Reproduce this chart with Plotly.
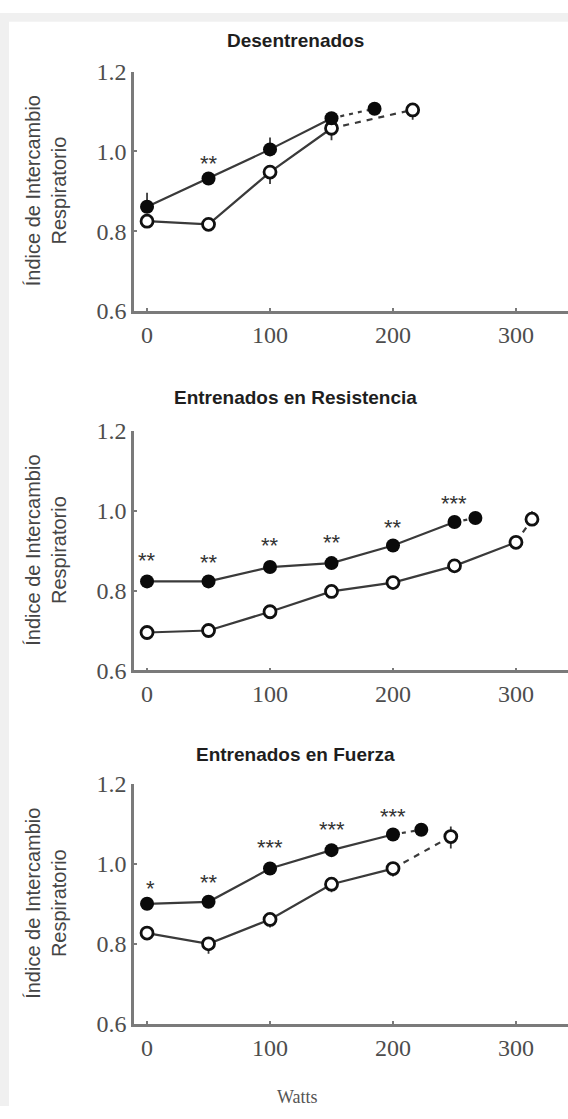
import plotly.graph_objects as go

W, H = 568, 1119

# ---------------- data ----------------
TITLES = ["Desentrenados", "Entrenados en Resistencia", "Entrenados en Fuerza"]
Y_TITLE = "Índice de Intercambio<br>Respiratorio"
X_TITLE = "Watts"
X_TICKS = [0, 100, 200, 300]
Y_TICKS = [0.6, 0.8, 1.0, 1.2]

# Desentrenados
DES_FILLED_X = [0, 50, 100, 150]
DES_FILLED_Y = [0.861, 0.932, 1.005, 1.083]
DES_FILLED_PEAK_X = [185]
DES_FILLED_PEAK_Y = [1.107]
DES_OPEN_X = [0, 50, 100, 150]
DES_OPEN_Y = [0.825, 0.817, 0.948, 1.058]
DES_OPEN_PEAK_X = [216]
DES_OPEN_PEAK_Y = [1.104]
DES_FILLED_ERR_UP = [0.035, 0, 0.03, 0]
DES_OPEN_ERR_DN = [0, 0, 0.03, 0.03]
DES_FILLED_PEAK_ERR_UP = [0.015]
DES_OPEN_PEAK_ERR_UP = [0.015]
DES_OPEN_PEAK_ERR_DN = [0.025]
DES_STAR_X = [50]
DES_STAR_Y = [0.984]
DES_STAR_TXT = ["**"]

# Entrenados en Resistencia
RES_FILLED_X = [0, 50, 100, 150, 200, 250]
RES_FILLED_Y = [0.823, 0.823, 0.859, 0.869, 0.913, 0.972]
RES_FILLED_PEAK_X = [267]
RES_FILLED_PEAK_Y = [0.982]
RES_OPEN_X = [0, 50, 100, 150, 200, 250, 300]
RES_OPEN_Y = [0.695, 0.700, 0.747, 0.798, 0.820, 0.862, 0.921]
RES_OPEN_PEAK_X = [313]
RES_OPEN_PEAK_Y = [0.979]
RES_FILLED_ERR_UP = [0, 0, 0, 0, 0, 0]
RES_OPEN_ERR_DN = [0, 0, 0, 0, 0, 0, 0]
RES_FILLED_PEAK_ERR_UP = [0]
RES_OPEN_PEAK_ERR_UP = [0.02]
RES_OPEN_PEAK_ERR_DN = [0.0]
RES_STAR_X = [0, 50, 100, 150, 200, 250]
RES_STAR_Y = [0.891, 0.886, 0.928, 0.935, 0.972, 1.033]
RES_STAR_TXT = ["**", "**", "**", "**", "**", "***"]

# Entrenados en Fuerza
FUE_FILLED_X = [0, 50, 100, 150, 200]
FUE_FILLED_Y = [0.900, 0.905, 0.988, 1.034, 1.073]
FUE_FILLED_PEAK_X = [223]
FUE_FILLED_PEAK_Y = [1.085]
FUE_OPEN_X = [0, 50, 100, 150, 200]
FUE_OPEN_Y = [0.827, 0.800, 0.861, 0.949, 0.988]
FUE_OPEN_PEAK_X = [247]
FUE_OPEN_PEAK_Y = [1.068]
FUE_FILLED_ERR_UP = [0, 0, 0, 0, 0]
FUE_OPEN_ERR_DN = [0.01, 0.025, 0.02, 0.02, 0.02]
FUE_FILLED_PEAK_ERR_UP = [0]
FUE_OPEN_PEAK_ERR_UP = [0.025]
FUE_OPEN_PEAK_ERR_DN = [0.03]
FUE_STAR_X = [3, 50, 100, 150, 200]
FUE_STAR_Y = [0.954, 0.968, 1.056, 1.100, 1.134]
FUE_STAR_TXT = ["*", "**", "***", "***", "***"]

PANELS = [
    dict(fx=DES_FILLED_X, fy=DES_FILLED_Y, fpx=DES_FILLED_PEAK_X, fpy=DES_FILLED_PEAK_Y,
         ox=DES_OPEN_X, oy=DES_OPEN_Y, opx=DES_OPEN_PEAK_X, opy=DES_OPEN_PEAK_Y,
         feu=DES_FILLED_ERR_UP, oed=DES_OPEN_ERR_DN, fpeu=DES_FILLED_PEAK_ERR_UP,
         opeu=DES_OPEN_PEAK_ERR_UP, oped=DES_OPEN_PEAK_ERR_DN,
         sx=DES_STAR_X, sy=DES_STAR_Y, st=DES_STAR_TXT),
    dict(fx=RES_FILLED_X, fy=RES_FILLED_Y, fpx=RES_FILLED_PEAK_X, fpy=RES_FILLED_PEAK_Y,
         ox=RES_OPEN_X, oy=RES_OPEN_Y, opx=RES_OPEN_PEAK_X, opy=RES_OPEN_PEAK_Y,
         feu=RES_FILLED_ERR_UP, oed=RES_OPEN_ERR_DN, fpeu=RES_FILLED_PEAK_ERR_UP,
         opeu=RES_OPEN_PEAK_ERR_UP, oped=RES_OPEN_PEAK_ERR_DN,
         sx=RES_STAR_X, sy=RES_STAR_Y, st=RES_STAR_TXT),
    dict(fx=FUE_FILLED_X, fy=FUE_FILLED_Y, fpx=FUE_FILLED_PEAK_X, fpy=FUE_FILLED_PEAK_Y,
         ox=FUE_OPEN_X, oy=FUE_OPEN_Y, opx=FUE_OPEN_PEAK_X, opy=FUE_OPEN_PEAK_Y,
         feu=FUE_FILLED_ERR_UP, oed=FUE_OPEN_ERR_DN, fpeu=FUE_FILLED_PEAK_ERR_UP,
         opeu=FUE_OPEN_PEAK_ERR_UP, oped=FUE_OPEN_PEAK_ERR_DN,
         sx=FUE_STAR_X, sy=FUE_STAR_Y, st=FUE_STAR_TXT),
]

# ---------------- layout geometry (pixels) ----------------
X_LEFT_PX = 134
PANEL_PX = [(60, 305), (428, 673), (789, 1035)]  # (top of 1.2, bottom at 0.6)
TITLE_PX = [28, 394, 759]
X_RANGE = [-10.6, 342.3]

LINE_COL = "#3a3a3a"
AXIS_COL = "#7a7a7a"
TICK_COL = "#4d4d4d"
BORDER_COL = "#f0f0f0"

fig = go.Figure()


def pf(py):
    return 1 - py / H


for i, p in enumerate(PANELS):
    n = "" if i == 0 else str(i + 1)
    xa, ya = "x" + n, "y" + n
    err = dict(type="data", symmetric=False, thickness=1.8, width=0, color=LINE_COL)
    # dashed extensions
    fig.add_trace(go.Scatter(x=[p["fx"][-1]] + p["fpx"], y=[p["fy"][-1]] + p["fpy"],
                             mode="lines", line=dict(color=LINE_COL, width=2.2, dash="4px,5px"),
                             xaxis=xa, yaxis=ya, showlegend=False, hoverinfo="skip"))
    fig.add_trace(go.Scatter(x=[p["ox"][-1]] + p["opx"], y=[p["oy"][-1]] + p["opy"],
                             mode="lines", line=dict(color=LINE_COL, width=2.2, dash="6px,6px"),
                             xaxis=xa, yaxis=ya, showlegend=False, hoverinfo="skip"))
    # open series
    fig.add_trace(go.Scatter(x=p["ox"], y=p["oy"], mode="lines+markers",
                             line=dict(color=LINE_COL, width=2.2),
                             marker=dict(size=12, color="white", line=dict(color="#111", width=2.8)),
                             error_y=dict(err, array=[0] * len(p["ox"]), arrayminus=p["oed"]),
                             xaxis=xa, yaxis=ya, showlegend=False))
    fig.add_trace(go.Scatter(x=p["opx"], y=p["opy"], mode="markers",
                             marker=dict(size=12, color="white", line=dict(color="#111", width=2.8)),
                             error_y=dict(err, array=p["opeu"], arrayminus=p["oped"]),
                             xaxis=xa, yaxis=ya, showlegend=False))
    # filled series
    fig.add_trace(go.Scatter(x=p["fx"], y=p["fy"], mode="lines+markers",
                             line=dict(color=LINE_COL, width=2.2),
                             marker=dict(size=14, color="#0a0a0a"),
                             error_y=dict(err, array=p["feu"], arrayminus=[0] * len(p["fx"])),
                             xaxis=xa, yaxis=ya, showlegend=False))
    fig.add_trace(go.Scatter(x=p["fpx"], y=p["fpy"], mode="markers",
                             marker=dict(size=14, color="#0a0a0a"),
                             error_y=dict(err, array=p["fpeu"], arrayminus=[0]),
                             xaxis=xa, yaxis=ya, showlegend=False))
    # significance stars
    for sx, sy, st in zip(p["sx"], p["sy"], p["st"]):
        fig.add_annotation(x=sx, y=sy, xref=xa, yref=ya, text=st, showarrow=False,
                           font=dict(family="Liberation Sans", size=22, color="#333"),
                           xanchor="center", yanchor="middle", yshift=-6)

    top, bot = PANEL_PX[i]
    axis_common = dict(showline=True, linecolor=AXIS_COL, linewidth=2.6, showgrid=False,
                       zeroline=False, ticks="inside", ticklen=3, tickwidth=1.5,
                       tickcolor=AXIS_COL,
                       tickfont=dict(family="Liberation Serif", size=24, color=TICK_COL))
    fig.update_layout(**{
        "xaxis" + n: dict(axis_common, domain=[X_LEFT_PX / W, 1], range=X_RANGE,
                          tickvals=X_TICKS, anchor=ya, ticklabelstandoff=0),
        "yaxis" + n: dict(axis_common, domain=[pf(bot), pf(top)], range=[0.6, 1.2],
                          tickvals=Y_TICKS, tickformat=".1f", anchor=xa,
                          ticklabelstandoff=0),
    })
    fig.add_annotation(x=295 / W, y=pf(TITLE_PX[i]), xref="paper", yref="paper",
                       text="<b>" + TITLES[i] + "</b>", showarrow=False,
                       font=dict(family="Liberation Sans", size=19, color="#1e1e1e"),
                       xanchor="center", yanchor="middle")
    fig.add_annotation(x=46 / W, y=pf((top + bot) / 2), xref="paper", yref="paper",
                       text=Y_TITLE, showarrow=False, textangle=-90,
                       font=dict(family="Liberation Sans", size=20, color="#454545"),
                       xanchor="center", yanchor="middle")

fig.add_annotation(x=297 / W, y=pf(1110), xref="paper", yref="paper", text=X_TITLE,
                   showarrow=False, font=dict(family="Liberation Serif", size=18, color="#555"),
                   xanchor="center", yanchor="middle")

# light grey frame on the left and top edges only
fig.add_shape(type="rect", xref="paper", yref="paper", x0=0, x1=9 / W, y0=0, y1=1,
              fillcolor=BORDER_COL, line=dict(width=0), layer="below")
fig.add_shape(type="rect", xref="paper", yref="paper", x0=0, x1=1, y0=1 - 9 / H, y1=1,
              fillcolor=BORDER_COL, line=dict(width=0), layer="below")

fig.update_layout(width=W, height=H, margin=dict(l=0, r=0, t=0, b=0),
                  paper_bgcolor="white", plot_bgcolor="rgba(0,0,0,0)")

fig.write_html("out.html")
